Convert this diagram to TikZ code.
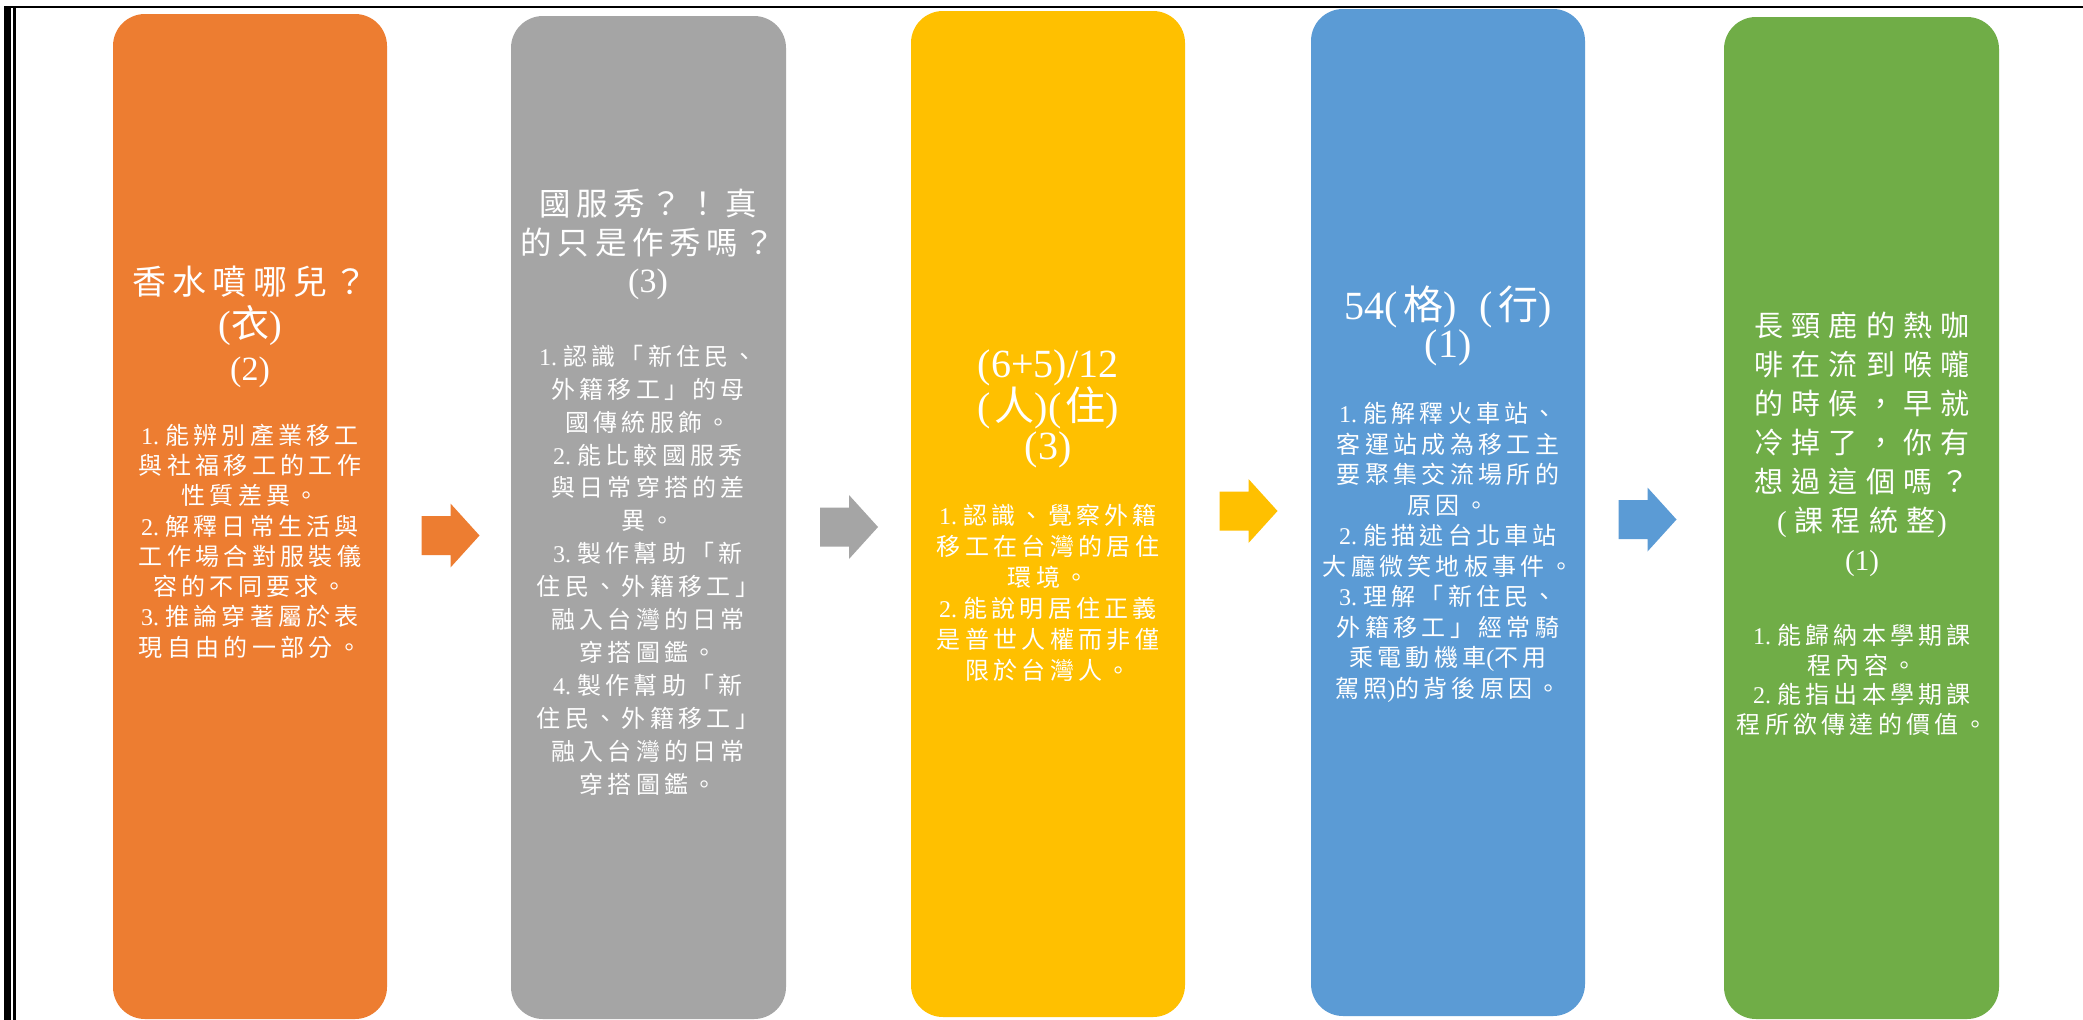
\documentclass[tikz,border=0pt]{standalone}
\usepackage{fontspec}
\setmainfont{Liberation Serif}
\newfontfamily\cjkA{Noto Sans CJK TC}[LetterSpace=18]
\newfontfamily\cjkB{Noto Sans CJK TC}[LetterSpace=28]
\newfontfamily\latf{Liberation Serif}
\newcommand\lf[1]{{\latf #1}}
\newcommand\nb[1]{{\latf #1}\hspace{6pt}}
\definecolor{cOrange}{HTML}{ED7D31}
\definecolor{cGray}{HTML}{A5A5A5}
\definecolor{cYellow}{HTML}{FFC000}
\definecolor{cBlue}{HTML}{5B9BD5}
\definecolor{cGreen}{HTML}{70AD47}
\tikzset{
  col/.style={rectangle, rounded corners=32pt, inner sep=0pt, outer sep=0pt, minimum width=274pt, anchor=north west},
  txt/.style={text=white, align=center, inner sep=0pt},
  blockarrow/.pic={\fill[#1] (-29,-19.5) -- (0,-19.5) -- (0,-32) -- (29,0) -- (0,32) -- (0,19.5) -- (-29,19.5) -- cycle;}
}
\begin{document}
\begin{tikzpicture}[x=1pt,y=-1pt]
\useasboundingbox (0,0) rectangle (2083,1020);
\fill[white] (0,0) rectangle (2083,1020);
% frame
\fill[black] (3.6,6) rectangle (11.2,1020);
\fill[black] (13.4,6) rectangle (15.6,1020);
\fill[black] (3.6,5.5) rectangle (2083,7.5);
% columns
\node[col, fill=cOrange, minimum height=1005pt] (b1) at (113,14) {};
\node[col, fill=cGray, minimum width=275pt, minimum height=1003pt] (b2) at (511,16) {};
\node[col, fill=cYellow, minimum height=1006pt] (b3) at (911,11) {};
\node[col, fill=cBlue, minimum height=1007pt] (b4) at (1311,9) {};
\node[col, fill=cGreen, minimum width=275pt, minimum height=1002pt] (b5) at (1724,17) {};
% arrows
\pic (a1) at (450.5,535.5) {blockarrow=cOrange};
\pic (a2) at (849,527) {blockarrow=cGray};
\pic (a3) at (1248.5,511) {blockarrow=cYellow};
\pic (a4) at (1647.5,519.5) {blockarrow=cBlue};
% column 1
\node[txt, font=\cjkA\fontsize{34}{43}\selectfont] (t1) at (250,327)
  {香水噴哪兒？\\{\fontsize{38}{43}\selectfont\lf{(}衣\lf{)}}\\\lf{(2)}};
\node[txt, font=\cjkA\fontsize{24}{30.3}\selectfont] (d1) at (250,541)
  {\nb{1.}能辨別產業移工\\與社福移工的工作\\性質差異。\\\nb{2.}解釋日常生活與\\工作場合對服裝儀\\容的不同要求。\\\nb{3.}推論穿著屬於表\\現自由的一部分。};
% column 2
\node[txt, font=\cjkA\fontsize{31.5}{38.5}\selectfont] (t2) at (648,244.5)
  {國服秀？！真\\的只是作秀嗎？\\{\fontsize{34}{38.5}\selectfont\lf{(3)}}};
\node[txt, font=\cjkA\fontsize{24}{32.9}\selectfont] (d2) at (648,570)
  {\nb{1.}認識「新住民、\\外籍移工」的母\\國傳統服飾。\\\nb{2.}能比較國服秀\\與日常穿搭的差\\異。\\\nb{3.}製作幫助「新\\住民、外籍移工」\\融入台灣的日常\\穿搭圖鑑。\\\nb{4.}製作幫助「新\\住民、外籍移工」\\融入台灣的日常\\穿搭圖鑑。};
% column 3
\node[txt, font=\cjkA\fontsize{40}{38.5}\selectfont] (t3) at (1048,408.5)
  {\lf{(6+5)/12}\\\lf{(}\hspace{4pt}人\lf{)(}\hspace{4pt}住\lf{)}\\\lf{(3)}};
\node[txt, font=\cjkA\fontsize{24}{31}\selectfont] (d3) at (1048,592.5)
  {\nb{1.}認識、覺察外籍\\移工在台灣的居住\\環境。\\\nb{2.}能說明居住正義\\是普世人權而非僅\\限於台灣人。};
% column 4
\node[txt, font=\cjkA\fontsize{40}{38}\selectfont] (t4) at (1448,326)
  {\lf{54(}\hspace{6pt}格\lf{)}\hspace{22pt}\lf{(}\hspace{6pt}行\lf{)}\\\lf{(1)}};
\node[txt, font=\cjkA\fontsize{24}{30.5}\selectfont] (d4) at (1448,552.5)
  {\nb{1.}能解釋火車站、\\客運站成為移工主\\要聚集交流場所的\\原因。\\\nb{2.}能描述台北車站\\大廳微笑地板事件。\\\nb{3.}理解「新住民、\\外籍移工」經常騎\\乘電動機車\lf{(}不用\\駕照\lf{)}的背後原因。};
% column 5
\node[txt, font=\cjkB\fontsize{29}{39}\selectfont] (t5) at (1862,444.5)
  {長頸鹿的熱咖\\啡在流到喉嚨\\的時候，早就\\冷掉了，你有\\想過這個嗎？\\\lf{(}\hspace{8pt}課程統整\hspace{2pt}\lf{)}\\\lf{(1)}};
\node[txt, font=\cjkA\fontsize{24}{29.5}\selectfont] (d5) at (1862,680)
  {\nb{1.}能歸納本學期課\\程內容。\\\nb{2.}能指出本學期課\\程所欲傳達的價值。};
\end{tikzpicture}
\end{document}
